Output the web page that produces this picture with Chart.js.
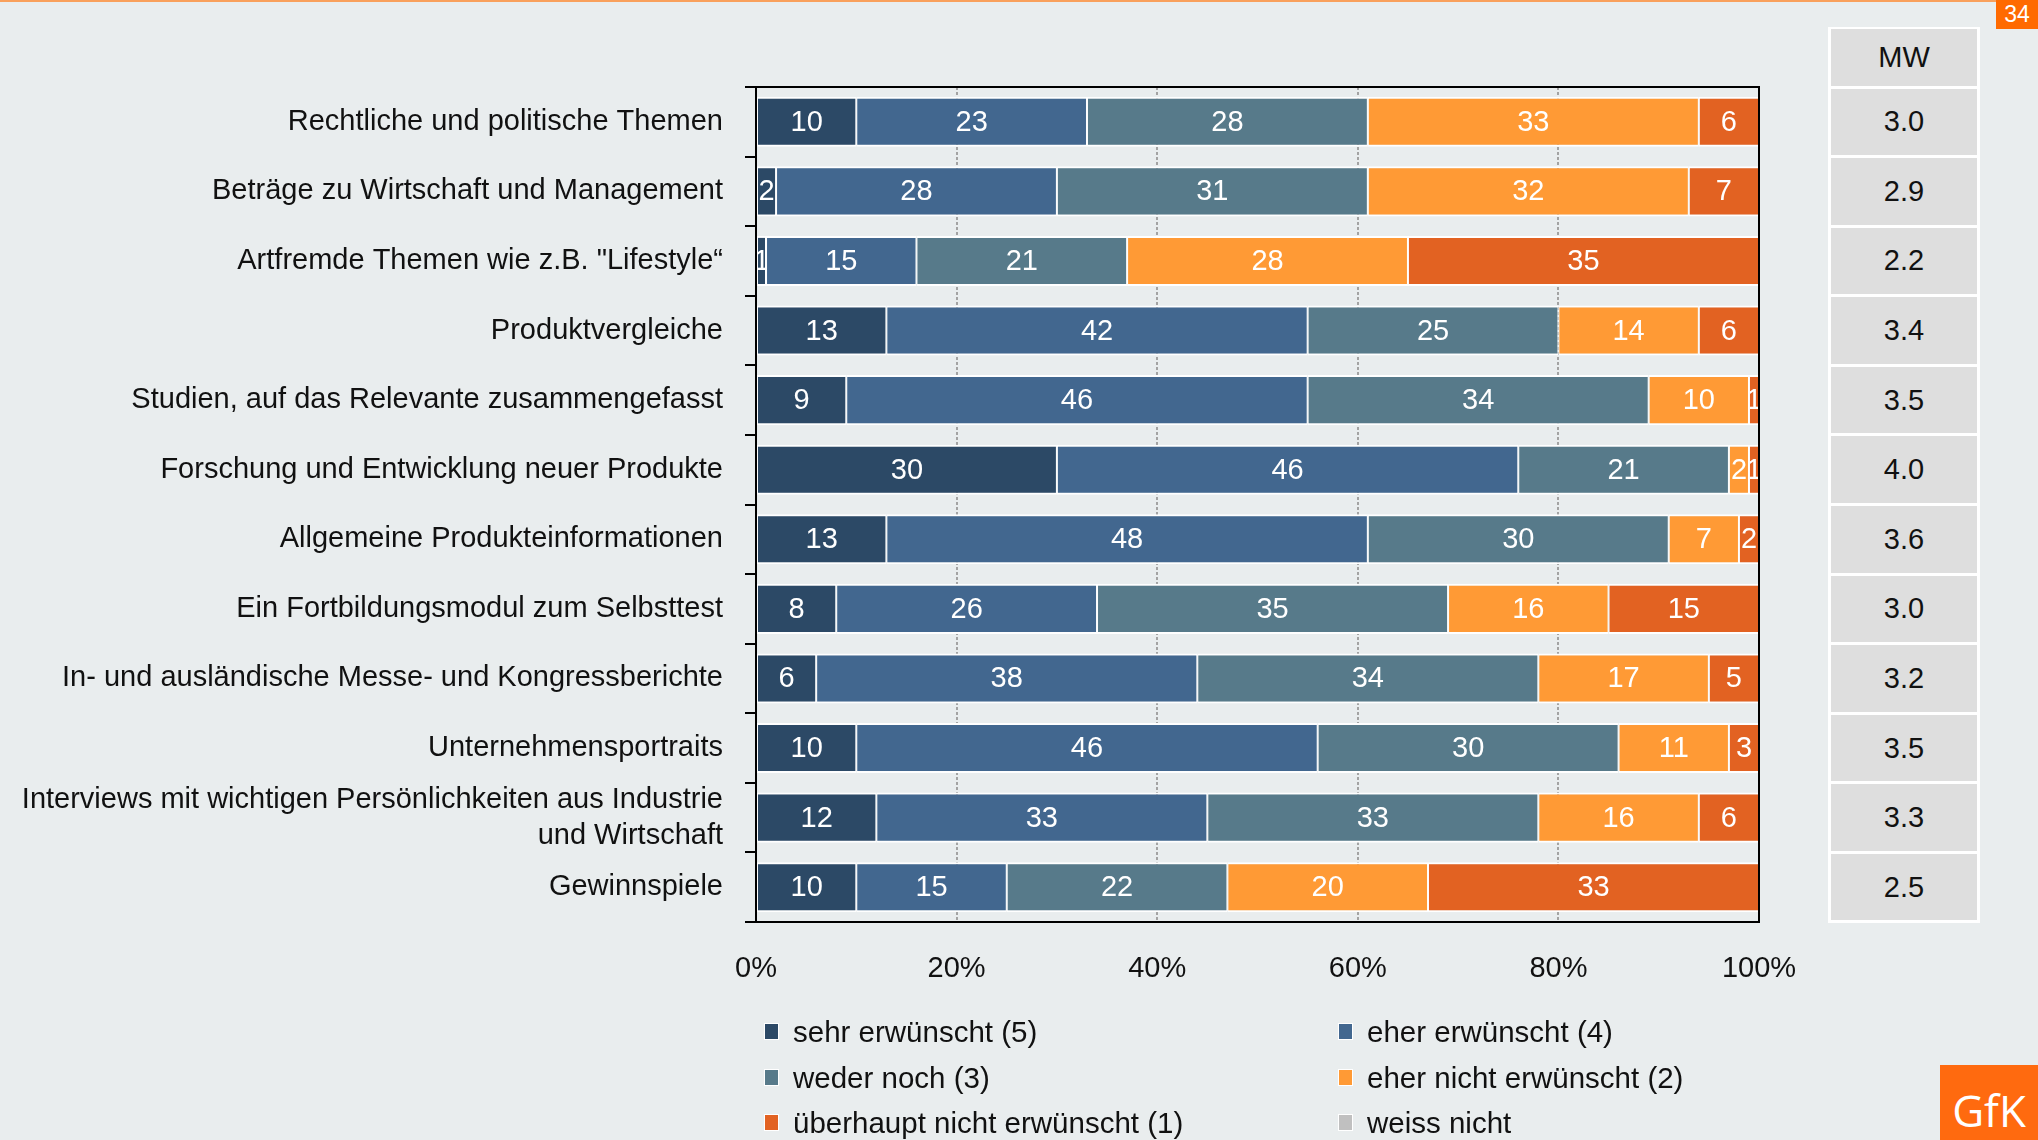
<!DOCTYPE html>
<html>
<head>
<meta charset="utf-8">
<script src="https://cdn.jsdelivr.net/npm/chart.js@4.4.1/dist/chart.umd.min.js"></script>
<style>
  html, body { margin:0; padding:0; background:#e9edee; }
  body { width:2038px; height:1140px; position:relative; overflow:hidden; font-family:"Liberation Sans", Arial, sans-serif; }
  #c { position:absolute; left:0; top:0; }
  .topline { position:absolute; left:0; top:0; width:1996px; height:2px; background:#f9a05c; }
  .pagenum { position:absolute; left:1996px; top:0; width:42px; height:29px; background:#ff6a00; color:#fff; font-size:23px; line-height:29px; text-align:center; }
  .logo { position:absolute; left:1940px; top:1065px; width:98px; height:75px; background:#ff6a0f; overflow:hidden; }
  .logo span { position:absolute; left:0; width:98px; top:23px; color:#fff; font-family:"Open Sans", sans-serif; font-size:44px; line-height:44px; text-align:center; }
  #mw { position:absolute; background:#fff; }
  .mwcell { position:absolute; background:#dedede; color:#111; font-size:29px; text-align:center; display:flex; align-items:center; justify-content:center; }
  .leg { position:absolute; font-size:29.5px; color:#111; white-space:nowrap; height:40px; line-height:40px; }
  .leg i { position:absolute; left:0; top:11px; width:15px; height:17px; border:1px solid #fff; box-sizing:border-box; }
  .leg span { position:absolute; left:29px; top:0; }
</style>
</head>
<body>
<div class="topline"></div>
<div class="pagenum">34</div>
<canvas id="c" width="2038" height="1140"></canvas>
<div id="mw"></div>
<div id="legend"></div>
<div class="logo"><span>GfK</span></div>
<script>
const categories = [
  "Rechtliche und politische Themen",
  "Beträge zu Wirtschaft und Management",
  "Artfremde Themen wie z.B. \"Lifestyle“",
  "Produktvergleiche",
  "Studien, auf das Relevante zusammengefasst",
  "Forschung und Entwicklung neuer Produkte",
  "Allgemeine Produkteinformationen",
  "Ein Fortbildungsmodul zum Selbsttest",
  "In- und ausländische Messe- und Kongressberichte",
  "Unternehmensportraits",
  ["Interviews mit wichtigen Persönlichkeiten aus Industrie", "und Wirtschaft"],
  "Gewinnspiele"
];
const seriesNames = ["sehr erwünscht (5)", "eher erwünscht (4)", "weder noch (3)", "eher nicht erwünscht (2)", "überhaupt nicht erwünscht (1)", "weiss nicht"];
const seriesColors = ["#2c4966", "#42678f", "#577a8a", "#ff9a35", "#e26222", "#c0c0c0"];
const sehrErwuenscht   = [10,  2,  1, 13,  9, 30, 13,  8,  6, 10, 12, 10];
const eherErwuenscht   = [23, 28, 15, 42, 46, 46, 48, 26, 38, 46, 33, 15];
const wederNoch        = [28, 31, 21, 25, 34, 21, 30, 35, 34, 30, 33, 22];
const eherNicht        = [33, 32, 28, 14, 10,  2,  7, 16, 17, 11, 16, 20];
const ueberhauptNicht  = [ 6,  7, 35,  6,  1,  1,  2, 15,  5,  3,  6, 33];
const weissNicht       = [ 0,  0,  0,  0,  0,  0,  0,  0,  0,  0,  0,  0];
const mwValues = ["3.0", "2.9", "2.2", "3.4", "3.5", "4.0", "3.6", "3.0", "3.2", "3.5", "3.3", "2.5"];
const mwHeader = "MW";
const xTickValues = [0, 20, 40, 60, 80, 100];

const FONT = "'Liberation Sans', Arial, sans-serif";
const allSeries = [sehrErwuenscht, eherErwuenscht, wederNoch, eherNicht, ueberhauptNicht, weissNicht];

const datasets = allSeries.map((d, i) => ({
  label: seriesNames[i],
  data: d,
  backgroundColor: seriesColors[i],
  borderColor: "#ffffff",
  borderWidth: {left: 1, right: 1, top: 2, bottom: 2},
  borderSkipped: false,
  barPercentage: 0.72,
  categoryPercentage: 1.0
}));

const labelPlugin = {
  id: "segLabels",
  afterDatasetsDraw(chart) {
    const ctx = chart.ctx;
    chart.data.datasets.forEach((ds, di) => {
      const meta = chart.getDatasetMeta(di);
      meta.data.forEach((el, i) => {
        const v = ds.data[i];
        if (!v) return;
        const {x, y, base, height} = el.getProps(["x", "y", "base", "height"], true);
        const l = Math.min(x, base), r = Math.max(x, base);
        ctx.save();
        ctx.beginPath();
        ctx.rect(l + 1, y - height / 2, r - l - 2, height);
        ctx.clip();
        ctx.fillStyle = "#ffffff";
        ctx.font = "29px " + FONT;
        ctx.textAlign = "center";
        ctx.textBaseline = "middle";
        ctx.fillText(String(v), (l + r) / 2, y + 1);
        ctx.restore();
      });
    });
  }
};

const framePlugin = {
  id: "frame",
  afterDraw(chart) {
    const a = chart.chartArea, ctx = chart.ctx;
    ctx.save();
    ctx.strokeStyle = "#000";
    ctx.lineWidth = 2;
    ctx.beginPath();
    ctx.moveTo(a.left - 11, a.top);
    ctx.lineTo(a.right, a.top);
    ctx.lineTo(a.right, a.bottom);
    ctx.stroke();
    ctx.restore();
  }
};

const chart = new Chart(document.getElementById("c"), {
  type: "bar",
  data: { labels: categories, datasets },
  options: {
    indexAxis: "y",
    responsive: false,
    animation: false,
    devicePixelRatio: 1,
    layout: { padding: { top: 87, right: 279, bottom: 0, left: 0 } },
    scales: {
      x: {
        stacked: true, min: 0, max: 100,
        afterBuildTicks: s => { s.ticks = xTickValues.map(v => ({value: v})); },
        afterFit: s => { s.height = 218; },
        ticks: { callback: v => v + "%", color: "#111", font: { size: 29, family: FONT }, padding: 30, maxRotation: 0, autoSkip: false },
        grid: {
          drawTicks: false,
          lineWidth: 2,
          color: c => (c.tick && (c.tick.value === 0 || c.tick.value === 100)) ? "rgba(0,0,0,0)" : "#a3a3a3"
        },
        border: { display: true, color: "#000", width: 2, dash: [3, 2] }
      },
      y: {
        stacked: true,
        afterFit: s => { s.width = 756; },
        ticks: { color: "#111", font: { size: 29, family: FONT, lineHeight: 1.24 }, padding: 22, autoSkip: false },
        grid: { drawOnChartArea: false, drawTicks: true, tickLength: 11, color: "#000", lineWidth: 2, offset: true },
        border: { display: true, color: "#000", width: 2 }
      }
    },
    plugins: { legend: { display: false }, tooltip: { enabled: false } }
  },
  plugins: [labelPlugin, framePlugin]
});

// MW table aligned with the category bands
(function buildMW() {
  const a = chart.chartArea;
  const n = categories.length;
  const band = (a.bottom - a.top) / n;
  const box = document.getElementById("mw");
  const left = 1828, width = 152, headTop = 27;
  box.style.left = left + "px";
  box.style.top = headTop + "px";
  box.style.width = width + "px";
  box.style.height = (a.bottom + 1 - headTop) + "px";
  function cell(top, bottom, text) {
    const d = document.createElement("div");
    d.className = "mwcell";
    d.style.left = "3px";
    d.style.width = (width - 6) + "px";
    d.style.top = (top - headTop) + "px";
    d.style.height = (bottom - top) + "px";
    d.textContent = text;
    box.appendChild(d);
  }
  cell(headTop + 2, a.top - 1.5, mwHeader);
  for (let i = 0; i < n; i++) {
    const c = chart.scales.y.getPixelForValue(i);
    cell(c - band / 2 + 1.5, c + band / 2 - 1.5, mwValues[i]);
  }
})();

// Legend
(function buildLegend() {
  const leg = document.getElementById("legend");
  const cols = [764, 1338];
  const rows = [1012, 1058, 1103];
  seriesNames.forEach((name, i) => {
    const d = document.createElement("div");
    d.className = "leg";
    d.style.left = cols[i % 2] + "px";
    d.style.top = rows[Math.floor(i / 2)] + "px";
    const m = document.createElement("i");
    m.style.background = seriesColors[i];
    const s = document.createElement("span");
    s.textContent = name;
    d.appendChild(m); d.appendChild(s);
    leg.appendChild(d);
  });
})();
</script>
</body>
</html>
